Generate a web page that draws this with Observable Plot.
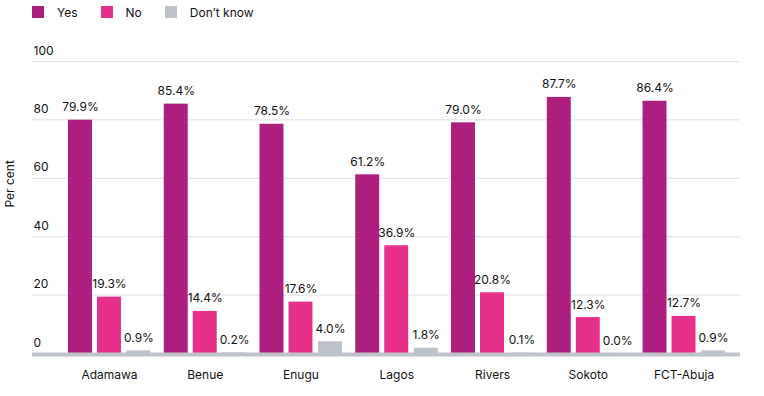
<!DOCTYPE html>
<html>
<head>
<meta charset="utf-8">
<script src="https://cdn.jsdelivr.net/npm/d3@7"></script>
<script src="https://cdn.jsdelivr.net/npm/@observablehq/plot@0.6"></script>
<style>
  html, body { margin: 0; padding: 0; background: #fff; }
  body { width: 764px; height: 396px; overflow: hidden; font-family: "Inter", "Liberation Sans", sans-serif; }
  #legend { height: 24px; display: flex; align-items: center; padding-left: 32px; font-size: 12px; color: #111; }
  .item { display: flex; align-items: center; margin-right: 23px; }
  .sw { width: 12px; height: 12px; margin-right: 13px; }
  svg { display: block; }
</style>
</head>
<body>
<div id="legend"></div>
<div id="chart"></div>
<script>
const states = ["Adamawa", "Benue", "Enugu", "Lagos", "Rivers", "Sokoto", "FCT-Abuja"];
const responses = ["Yes", "No", "Don\u2019t know"];
const yesValues = [79.9, 85.4, 78.5, 61.2, 79.0, 87.7, 86.4];
const noValues = [19.3, 14.4, 17.6, 36.9, 20.8, 12.3, 12.7];
const dontKnowValues = [0.9, 0.2, 4.0, 1.8, 0.1, 0.0, 0.9];
const yTicks = [0, 20, 40, 60, 80, 100];
const colors = ["#AC1F7F", "#E6308A", "#BEC2CA"];

const seriesValues = [yesValues, noValues, dontKnowValues];
const offsets = [-29, 0, 29.5];

// legend
const legend = document.getElementById("legend");
responses.forEach((r, i) => {
  const it = document.createElement("div");
  it.className = "item";
  it.innerHTML = `<span class="sw" style="background:${colors[i]}"></span><span>${r}</span>`;
  legend.appendChild(it);
});

const marks = [
  Plot.ruleY(yTicks.filter(d => d > 0), {stroke: "#DCDDE0", strokeWidth: 1}),
  Plot.text(yTicks, {y: d => d, text: d => String(d), frameAnchor: "left", textAnchor: "start", lineAnchor: "bottom", dy: -7, dx: 1, fill: "#111", fontSize: 12}),
  Plot.text(["Per cent"], {frameAnchor: "left", rotate: -90, dx: -22, fill: "#111", fontSize: 12}),
];

seriesValues.forEach((vals, i) => {
  const data = states.map((s, j) => ({state: s, value: vals[j]}));
  marks.push(Plot.barY(data, {
    x: "state", y: "value", fill: colors[i], dx: offsets[i],
    insetLeft: 35.9, insetRight: 35.9
  }));
  marks.push(Plot.text(data, {
    x: "state", y: "value", text: d => d.value.toFixed(1) + "%", dx: offsets[i],
    lineAnchor: "bottom", dy: -9, fill: "#111", fontSize: 12
  }));
});

marks.push(Plot.ruleY([0], {stroke: "#BEC2CA", strokeWidth: 4, dy: 1}));
marks.push(Plot.text(states, {x: d => d, y: 0, text: d => d, dy: 22, lineAnchor: "middle", fill: "#111", fontSize: 12}));

const chart = Plot.plot({
  width: 764,
  height: 372,
  marginLeft: 32,
  marginRight: 24,
  marginTop: 37,
  marginBottom: 43,
  style: {fontFamily: "Inter, 'Liberation Sans', sans-serif", fontSize: "12px", background: "#fff"},
  x: {type: "band", domain: states, range: [61.1, 731.4], padding: 0, round: false, axis: null},
  y: {domain: [0, 100], axis: null},
  marks
});
document.getElementById("chart").appendChild(chart);
</script>
</body>
</html>
